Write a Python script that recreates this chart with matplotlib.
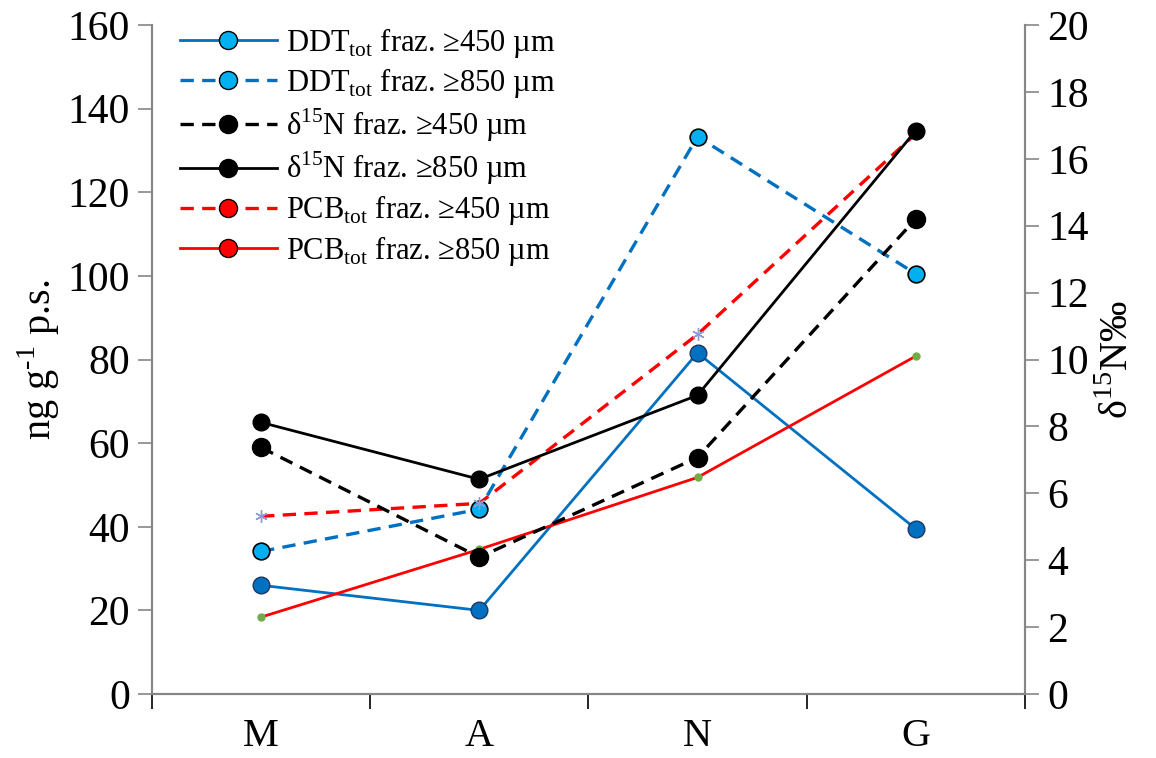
import numpy as np
import matplotlib
matplotlib.use("Agg")
import matplotlib.pyplot as plt
from matplotlib.lines import Line2D

plt.rcParams['font.family'] = ['Liberation Serif', 'DejaVu Serif']
plt.rcParams['mathtext.fontset'] = 'custom'
plt.rcParams['mathtext.rm'] = 'Liberation Serif'

# ---------------- data ----------------
sites = ['M', 'A', 'N', 'G']
ddt_450 = [26.0, 20.0, 81.6, 39.5]
ddt_850 = [34.1, 44.2, 133.3, 100.5]
pcb_450 = [42.5, 45.6, 86.0, 134.0]
pcb_850 = [18.4, 34.6, 51.8, 80.8]
d15n_450 = [7.37, 4.09, 7.07, 14.2]
d15n_850 = [8.12, 6.42, 8.93, 16.84]

blue = '#0070C0'
lblue = '#00B0F0'
red = '#FF0000'
green = '#70AD47'
gray = '#868686'

fig = plt.figure(figsize=(11.56, 7.58), dpi=100)
ax = fig.add_axes([0.1315, 0.0844, 0.755, 0.8826])
ax2 = ax.twinx()
x = np.arange(len(sites))

# left axis series
ax.plot(x, ddt_450, '-', color=blue, lw=2, marker='o', ms=12,
        mfc=blue, mec='#1F3864', mew=1, zorder=3)
ax.plot(x, ddt_850, '--', color=blue, lw=2.4, dashes=(4, 2.5), marker='o', ms=12,
        mfc=lblue, mec='black', mew=1.2, zorder=3)
ax.plot(x, pcb_450, '--', color=red, lw=2.4, dashes=(4, 2.5), marker=(6, 2, 0), ms=9,
        mec='#8E9BD6', mew=1, zorder=3)
ax.plot(x, pcb_850, '-', color=red, lw=2, marker='o', ms=5,
        mfc=green, mec=green, zorder=3)

# right axis series
ax2.plot(x, d15n_450, '--', color='black', lw=2.4, dashes=(4, 2.5), marker='o', ms=13,
         mfc='black', mec='black', zorder=3)
ax2.plot(x, d15n_850, '-', color='black', lw=2, marker='o', ms=12,
         mfc='black', mec='black', zorder=3)

ax.set_xlim(-0.5, 3.5)
ax.set_ylim(0, 160)
ax.set_yticks(np.arange(0, 161, 20))
ax2.set_ylim(0, 20)
ax2.set_yticks(np.arange(0, 21, 2))

ax.set_xticks(x)
ax.set_xticklabels(sites)
ax.set_xticks(np.arange(-0.5, 3.6, 1), minor=True)
ax.tick_params(axis='x', which='major', length=0, pad=17, labelsize=29)
ax.tick_params(axis='x', which='minor', length=11, width=1.2, color='black')
ax.tick_params(axis='y', length=10, width=1.2, color=gray, labelsize=30, pad=6)
ax2.tick_params(axis='y', length=10, width=1.2, color=gray, labelsize=30, pad=6)

for a in (ax, ax2):
    a.spines['top'].set_visible(False)
    for s in ('left', 'right', 'bottom'):
        a.spines[s].set_color(gray)
        a.spines[s].set_linewidth(1.5)

ax.set_ylabel('ng g$^{\u20101}$ p.s.', fontsize=29, labelpad=4)
ax2.set_ylabel('δ$^{15}$N‰', fontsize=29, labelpad=8)

# legend (markers as they appear in the original key)
handles = [
    Line2D([], [], color=blue, lw=2, marker='o', ms=13, mfc=lblue, mec='black'),
    Line2D([], [], color=blue, lw=2.4, ls='--', dashes=(4, 2.5), marker='o', ms=13, mfc=lblue, mec='black'),
    Line2D([], [], color='black', lw=2.4, ls='--', dashes=(4, 2.5), marker='o', ms=13, mfc='black', mec='black'),
    Line2D([], [], color='black', lw=2, marker='o', ms=13, mfc='black', mec='black'),
    Line2D([], [], color=red, lw=2.4, ls='--', dashes=(4, 2.5), marker='o', ms=13, mfc=red, mec='black'),
    Line2D([], [], color=red, lw=2, marker='o', ms=13, mfc=red, mec='black'),
]
labels = [
    'DDT$_{\\mathrm{tot}}$ fraz. ≥450 µm',
    'DDT$_{\\mathrm{tot}}$ fraz. ≥850 µm',
    'δ$^{15}$N fraz. ≥450 µm',
    'δ$^{15}$N fraz. ≥850 µm',
    'PCB$_{\\mathrm{tot}}$ fraz. ≥450 µm',
    'PCB$_{\\mathrm{tot}}$ fraz. ≥850 µm',
]
leg = ax2.legend(handles, labels, loc='upper left', bbox_to_anchor=(0.0, 1.04),
                 frameon=False, fontsize=22, handlelength=3.2, handletextpad=0.3,
                 labelspacing=0.2)

plt.savefig('out.png', dpi=100)
